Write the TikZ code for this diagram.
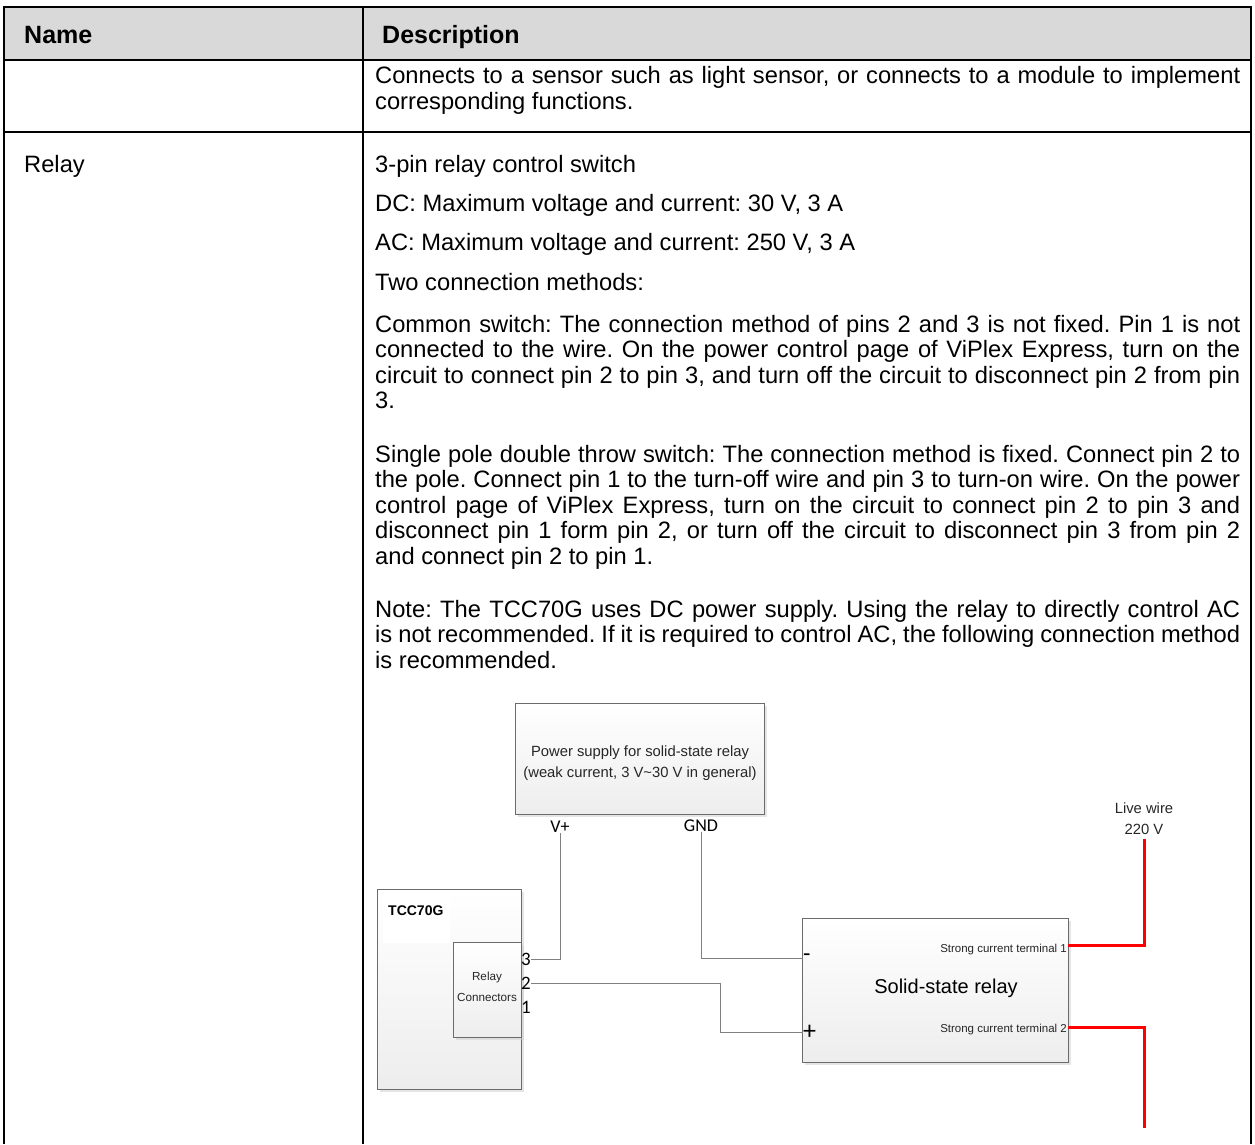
\documentclass[tikz,border=0pt]{standalone}
\usepackage{fontspec}
\setmainfont{Liberation Sans}
\newfontfamily\calfont{Carlito}
\usetikzlibrary{shadows}
\newcommand\jl[1]{\makebox[865pt][s]{#1}}
\begin{document}
\frenchspacing
\begin{tikzpicture}[x=1pt,y=-1pt,
  tblline/.style={line width=2pt, black},
  body/.style={anchor=base west, inner sep=0pt, font=\frenchspacing\fontsize{23.7}{25.5}\selectfont},
  hdr/.style={anchor=base west, inner sep=0pt, font=\bfseries\fontsize{25}{27}\selectfont},
  box/.style={draw=black!58, line width=0.9pt, top color=white, bottom color=black!7, anchor=north west, inner sep=0pt, drop shadow={shadow xshift=2.5pt, shadow yshift=-2.5pt, fill=black!20}},
  wire/.style={draw=black!50, line width=1pt},
  redwire/.style={draw=red, line width=3pt},
  dlabel/.style={inner sep=0pt, font=\fontsize{14.8}{21}\selectfont, text=black!85, align=center},
  pinlbl/.style={inner sep=0pt, anchor=west, font=\calfont\fontsize{19}{19}\selectfont},
  cal/.style={inner sep=0pt, font=\calfont\fontsize{18}{18}\selectfont},
]
\useasboundingbox (0,0) rectangle (1255,1144);
% table
\fill[black!15] (4,7) rectangle (1251,60);
\draw[tblline] (3,7) -- (1252,7);
\draw[tblline] (3,60) -- (1252,60);
\draw[tblline] (3,132) -- (1252,132);
\draw[tblline] (4,6) -- (4,1144);
\draw[tblline] (363,6) -- (363,1144);
\draw[tblline] (1251,6) -- (1251,1144);
% header
\node[hdr] (hname) at (24,43) {Name};
\node[hdr] (hdesc) at (382,43) {Description};
% row 1
\node[body] (r1a) at (375,83) {\jl{Connects to a sensor such as light sensor, or connects to a module to implement}};
\node[body] (r1b) at (375,109) {corresponding functions.};
% row 2
\node[body] (relay) at (24,172) {Relay};
\node[body] (d1) at (375,172) {3-pin relay control switch};
\node[body] (d2) at (375,211) {DC: Maximum voltage and current: 30 V, 3 A};
\node[body] (d3) at (375,250) {AC: Maximum voltage and current: 250 V, 3 A};
\node[body] (d4) at (375,290) {Two connection methods:};
\node[body] (c1) at (375,332) {\jl{Common switch: The connection method of pins 2 and 3 is not fixed. Pin 1 is not}};
\node[body] (c2) at (375,357.5) {\jl{connected to the wire. On the power control page of ViPlex Express, turn on the}};
\node[body] (c3) at (375,383) {\jl{circuit to connect pin 2 to pin 3, and turn off the circuit to disconnect pin 2 from pin}};
\node[body] (c4) at (375,408.5) {3.};
\node[body] (s1) at (375,462) {\jl{Single pole double throw switch: The connection method is fixed. Connect pin 2 to}};
\node[body] (s2) at (375,487.5) {\jl{the pole. Connect pin 1 to the turn-off wire and pin 3 to turn-on wire. On the power}};
\node[body] (s3) at (375,513) {\jl{control page of ViPlex Express, turn on the circuit to connect pin 2 to pin 3 and}};
\node[body] (s4) at (375,538.5) {\jl{disconnect pin 1 form pin 2, or turn off the circuit to disconnect pin 3 from pin 2}};
\node[body] (s5) at (375,564) {and connect pin 2 to pin 1.};
\node[body] (n1) at (375,617) {\jl{Note: The TCC70G uses DC power supply. Using the relay to directly control AC}};
\node[body] (n2) at (375,642.5) {\jl{is not recommended. If it is required to control AC, the following connection method}};
\node[body] (n3) at (375,668) {is recommended.};
% diagram: power supply
\node[box, minimum width=249, minimum height=111] (ps) at (515,703) {};
\node[dlabel] (pstext) at (640,763) {Power supply for solid-state relay\\(weak current, 3 V\textasciitilde30 V in general)};
\node[cal] (vp) at (560,827) {V+};
\node[cal] (gnd) at (701,826) {GND};
% TCC70G
\node[box, minimum width=144, minimum height=200] (tcc) at (377,889) {};
\fill[white] (383,897) rectangle (450,943);
\node[anchor=west, inner sep=0pt, font=\bfseries\fontsize{14}{14}\selectfont] (tcclbl) at (388,911) {TCC70G};
\node[box, minimum width=68, minimum height=95] (rc) at (453,942) {};
\node[dlabel, font=\fontsize{11.7}{21}\selectfont] (rctext) at (487,987) {Relay\\Connectors};
\node[pinlbl] (pin3) at (521,959) {3};
\node[pinlbl] (pin2) at (521,983) {2};
\node[pinlbl] (pin1) at (521,1007) {1};
% solid-state relay
\node[box, minimum width=266, minimum height=144] (ssr) at (802,918) {};
\node[anchor=west, inner sep=0pt, font=\calfont\fontsize{24}{24}\selectfont] (minus) at (803,958) {-};
\node[anchor=west, inner sep=0pt, font=\calfont\fontsize{26}{26}\selectfont] (plus) at (803,1032) {+};
\node[inner sep=0pt, font=\fontsize{20}{20}\selectfont] (ssrtext) at (946,988) {Solid-state relay};
\node[anchor=east, inner sep=0pt, font=\fontsize{11.5}{12}\selectfont, text=black!85] (t1) at (1067,950) {Strong current terminal 1};
\node[anchor=east, inner sep=0pt, font=\fontsize{11.5}{12}\selectfont, text=black!85] (t2) at (1067,1030) {Strong current terminal 2};
\node[dlabel] (live) at (1144,819) {Live wire\\220 V};
% wires
\coordinate (bend2) at (720,983);
\draw[wire] (pin3.east) -| (vp.south);
\draw[wire] (pin2.east) -| (bend2) |- (plus.west);
\draw[wire] (gnd.south) |- (minus.west);
\coordinate (t1pt) at (1068,945);
\coordinate (t2pt) at (1068,1027);
\coordinate (liveend) at (1144,1128);
\draw[redwire, shorten >=4pt] (t1pt) -| (live.south);
\draw[redwire] (t2pt) -| (liveend);
\end{tikzpicture}
\end{document}
